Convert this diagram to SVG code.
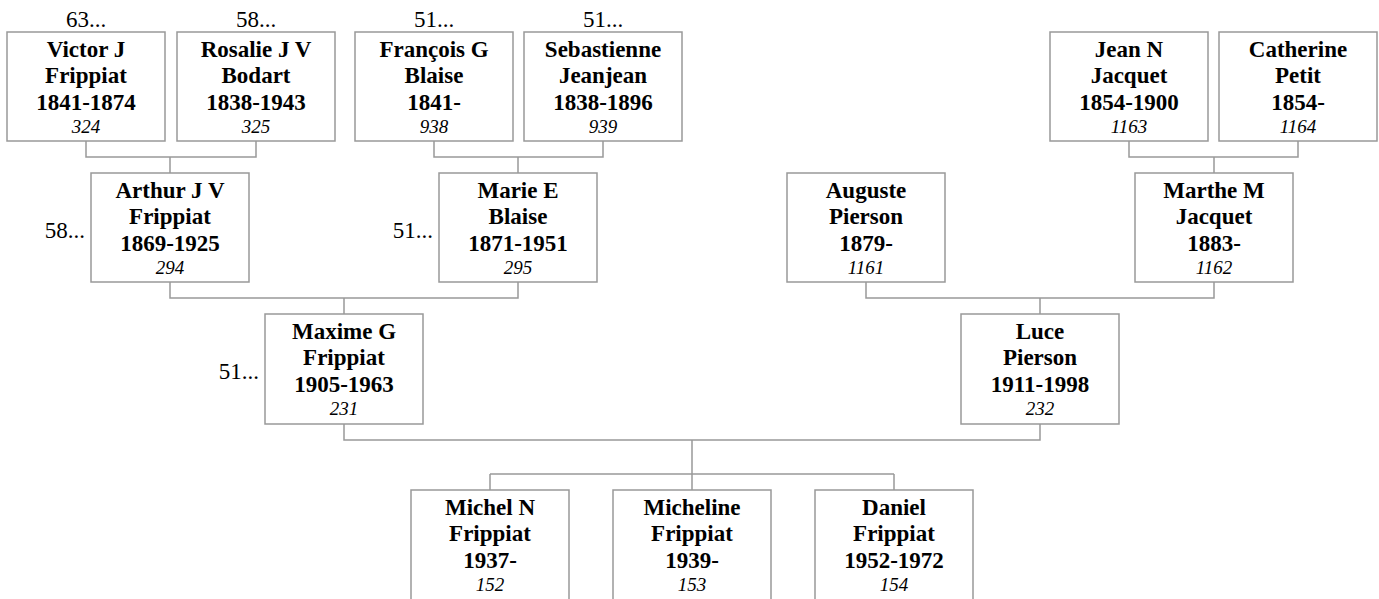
<svg xmlns="http://www.w3.org/2000/svg" width="1379" height="599" viewBox="0 0 1379 599" font-family="'Liberation Serif', 'Times New Roman', Tinos, serif">
<style>
.box{fill:#fff;stroke:#999;stroke-width:1.5}
.n{font-weight:bold;font-size:23px;fill:#000;text-anchor:middle}
.id{font-style:italic;font-size:19px;fill:#000;text-anchor:middle}
.more{font-size:23px;fill:#000}
.c{fill:none;stroke:#999;stroke-width:1.5}
</style>
<rect width="1379" height="599" fill="#fff"/>
<g id="connectors" class="c">
<path d="M86 141V157H256V141M170 157V173"/>
<path d="M434 141V157H603V141M518 157V173"/>
<path d="M1129 141V157H1298V141M1214 157V173"/>
<path d="M170 282V298H518V282M344 298V314"/>
<path d="M866 282V298H1214V282M1040 298V314"/>
<path d="M344 424V440H1040V424M692 440V474M490 474H894M490 474V490M692 474V490M894 474V490"/>
</g>
<g id="p324"><rect class="box" x="7" y="32" width="158" height="109"/><text class="more" x="86" y="27" text-anchor="middle">63...</text><text class="n" x="86" y="56.5">Victor J</text><text class="n" x="86" y="83">Frippiat</text><text class="n" x="86" y="109.5">1841-1874</text><text class="id" x="86" y="133">324</text></g>
<g id="p325"><rect class="box" x="177" y="32" width="158" height="109"/><text class="more" x="256" y="27" text-anchor="middle">58...</text><text class="n" x="256" y="56.5">Rosalie J V</text><text class="n" x="256" y="83">Bodart</text><text class="n" x="256" y="109.5">1838-1943</text><text class="id" x="256" y="133">325</text></g>
<g id="p938"><rect class="box" x="355" y="32" width="158" height="109"/><text class="more" x="434" y="27" text-anchor="middle">51...</text><text class="n" x="434" y="56.5">François G</text><text class="n" x="434" y="83">Blaise</text><text class="n" x="434" y="109.5">1841-</text><text class="id" x="434" y="133">938</text></g>
<g id="p939"><rect class="box" x="524" y="32" width="158" height="109"/><text class="more" x="603" y="27" text-anchor="middle">51...</text><text class="n" x="603" y="56.5">Sebastienne</text><text class="n" x="603" y="83">Jeanjean</text><text class="n" x="603" y="109.5">1838-1896</text><text class="id" x="603" y="133">939</text></g>
<g id="p1163"><rect class="box" x="1050" y="32" width="158" height="109"/><text class="n" x="1129" y="56.5">Jean N</text><text class="n" x="1129" y="83">Jacquet</text><text class="n" x="1129" y="109.5">1854-1900</text><text class="id" x="1129" y="133">1163</text></g>
<g id="p1164"><rect class="box" x="1219" y="32" width="158" height="109"/><text class="n" x="1298" y="56.5">Catherine</text><text class="n" x="1298" y="83">Petit</text><text class="n" x="1298" y="109.5">1854-</text><text class="id" x="1298" y="133">1164</text></g>
<g id="p294"><rect class="box" x="91" y="173" width="158" height="109"/><text class="more" x="85" y="237.5" text-anchor="end">58...</text><text class="n" x="170" y="197.5">Arthur J V</text><text class="n" x="170" y="224">Frippiat</text><text class="n" x="170" y="250.5">1869-1925</text><text class="id" x="170" y="274">294</text></g>
<g id="p295"><rect class="box" x="439" y="173" width="158" height="109"/><text class="more" x="433" y="237.5" text-anchor="end">51...</text><text class="n" x="518" y="197.5">Marie E</text><text class="n" x="518" y="224">Blaise</text><text class="n" x="518" y="250.5">1871-1951</text><text class="id" x="518" y="274">295</text></g>
<g id="p1161"><rect class="box" x="787" y="173" width="158" height="109"/><text class="n" x="866" y="197.5">Auguste</text><text class="n" x="866" y="224">Pierson</text><text class="n" x="866" y="250.5">1879-</text><text class="id" x="866" y="274">1161</text></g>
<g id="p1162"><rect class="box" x="1135" y="173" width="158" height="109"/><text class="n" x="1214" y="197.5">Marthe M</text><text class="n" x="1214" y="224">Jacquet</text><text class="n" x="1214" y="250.5">1883-</text><text class="id" x="1214" y="274">1162</text></g>
<g id="p231"><rect class="box" x="265" y="314" width="158" height="110"/><text class="more" x="259" y="379" text-anchor="end">51...</text><text class="n" x="344" y="338.5">Maxime G</text><text class="n" x="344" y="365">Frippiat</text><text class="n" x="344" y="391.5">1905-1963</text><text class="id" x="344" y="415">231</text></g>
<g id="p232"><rect class="box" x="961" y="314" width="158" height="110"/><text class="n" x="1040" y="338.5">Luce</text><text class="n" x="1040" y="365">Pierson</text><text class="n" x="1040" y="391.5">1911-1998</text><text class="id" x="1040" y="415">232</text></g>
<g id="p152"><rect class="box" x="411" y="490" width="158" height="130"/><text class="n" x="490" y="514.5">Michel N</text><text class="n" x="490" y="541">Frippiat</text><text class="n" x="490" y="567.5">1937-</text><text class="id" x="490" y="591">152</text></g>
<g id="p153"><rect class="box" x="613" y="490" width="158" height="130"/><text class="n" x="692" y="514.5">Micheline</text><text class="n" x="692" y="541">Frippiat</text><text class="n" x="692" y="567.5">1939-</text><text class="id" x="692" y="591">153</text></g>
<g id="p154"><rect class="box" x="815" y="490" width="158" height="130"/><text class="n" x="894" y="514.5">Daniel</text><text class="n" x="894" y="541">Frippiat</text><text class="n" x="894" y="567.5">1952-1972</text><text class="id" x="894" y="591">154</text></g>
</svg>
